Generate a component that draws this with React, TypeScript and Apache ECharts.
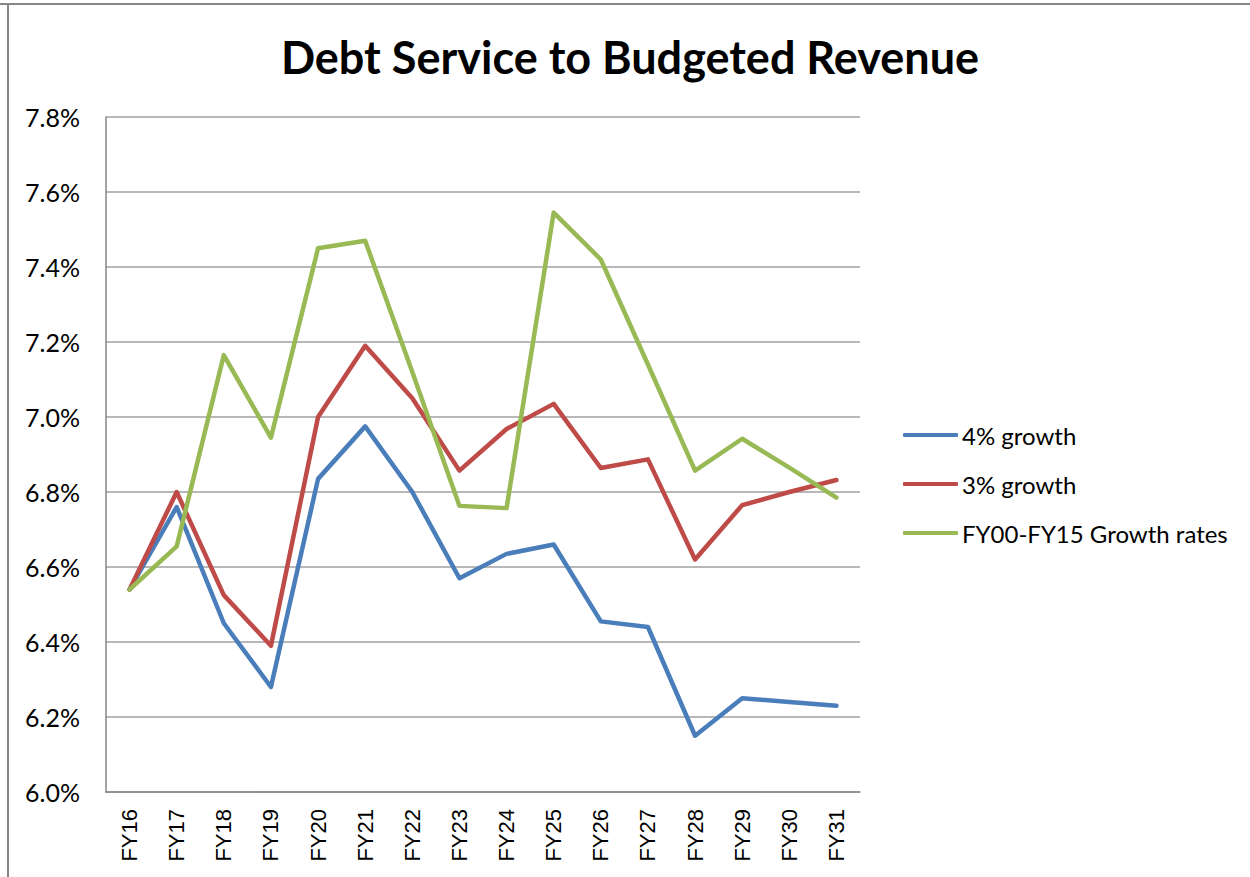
import React, { useEffect, useRef } from "react";
import * as echarts from "echarts";

const categories = ["FY16","FY17","FY18","FY19","FY20","FY21","FY22","FY23","FY24","FY25","FY26","FY27","FY28","FY29","FY30","FY31"];
const growth4 = [6.54, 6.76, 6.45, 6.28, 6.835, 6.975, 6.80, 6.57, 6.635, 6.66, 6.455, 6.44, 6.15, 6.25, 6.24, 6.23];
const growth3 = [6.54, 6.80, 6.525, 6.39, 7.00, 7.19, 7.05, 6.857, 6.968, 7.035, 6.864, 6.887, 6.62, 6.765, 6.80, 6.832];
const growthHist = [6.54, 6.655, 7.165, 6.945, 7.45, 7.47, 7.12, 6.763, 6.757, 7.545, 7.42, 7.14, 6.857, 6.942, 6.865, 6.785];
const seriesNames = ["4% growth", "3% growth", "FY00-FY15 Growth rates"];
const colors = ["#4a7ebb", "#be4b48", "#98b954"];
const titleText = "Debt Service to Budgeted Revenue";

export default function App() {
  const ref = useRef<HTMLDivElement>(null);
  useEffect(() => {
    if (!ref.current) return;
    const chart = echarts.init(ref.current, null, { renderer: "svg" });
    const data = [growth4, growth3, growthHist];
    chart.setOption({
      animation: false,
      backgroundColor: "#ffffff",
      color: colors,
      graphic: [
        { type: "line", shape: { x1: 0, y1: 4, x2: 1250, y2: 4 }, style: { stroke: "#868686", lineWidth: 2 } },
        { type: "line", shape: { x1: 8, y1: 3, x2: 8, y2: 877 }, style: { stroke: "#868686", lineWidth: 2 } },
        {
          type: "text", x: 630, y: 57,
          style: { text: titleText, font: "bold 45px Lato", fill: "#000", align: "center", verticalAlign: "middle" },
        },
      ],
      grid: { left: 106, top: 117, right: 390, bottom: 85, containLabel: false },
      legend: {
        orient: "vertical",
        left: 898,
        top: 418,
        itemWidth: 55,
        itemHeight: 4,
        itemGap: 25,
        icon: "roundRect",
        textStyle: { fontFamily: "Lato", fontSize: 24, color: "#000", lineHeight: 24, padding: [0, 0, 0, -1] },
        data: seriesNames,
      },
      xAxis: {
        type: "category",
        data: categories,
        boundaryGap: true,
        axisLine: { lineStyle: { color: "#868686", width: 1.5 } },
        axisTick: { show: false },
        axisLabel: { rotate: 90, margin: 17, fontFamily: "Liberation Sans", fontSize: 22, color: "#000" },
      },
      yAxis: {
        type: "value",
        min: 6.0,
        max: 7.8,
        interval: 0.2,
        axisLine: { show: true, lineStyle: { color: "#868686", width: 1.5 } },
        axisTick: { show: false },
        splitLine: { lineStyle: { color: "#a0a0a0", width: 1.5 } },
        axisLabel: {
          margin: 26,
          fontFamily: "Lato",
          fontSize: 25,
          color: "#000",
          formatter: (v: number) => v.toFixed(1) + "%",
        },
      },
      series: data.map((d, i) => ({
        name: seriesNames[i],
        type: "line",
        data: d,
        showSymbol: false,
        symbol: "none",
        lineStyle: { width: 4.5, color: colors[i], cap: "round", join: "round" },
        itemStyle: { color: colors[i] },
      })),
    });
    return () => chart.dispose();
  }, []);
  return <div ref={ref} style={{ position: "fixed", left: 0, top: 0, width: 1250, height: 877 }} />;
}
